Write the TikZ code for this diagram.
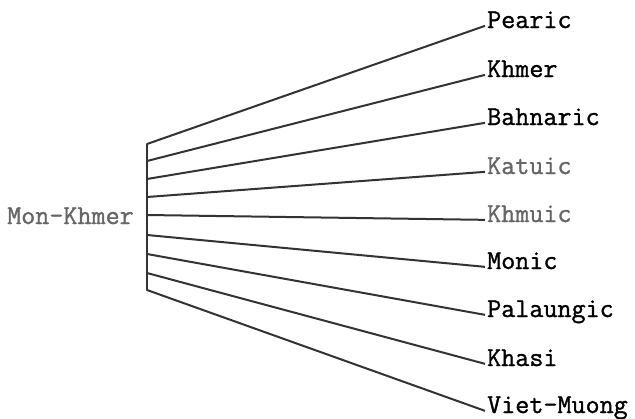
\documentclass[tikz,border=0pt]{standalone}
\usepackage{fontspec}
\setmonofont[FakeBold=1.2]{Latin Modern Mono}
\begin{document}
\begin{tikzpicture}[x=1pt,y=-1pt,
  branch/.style={draw=black!80,line width=2pt},
  lab/.style={anchor=base west,inner sep=2pt,font=\ttfamily\fontsize{27.3}{27}\selectfont},
  faint/.style={text=black!60}]
\useasboundingbox (0,0) rectangle (635,418);
% bar points
\coordinate (b1) at (147,144);
\coordinate (b2) at (147,161);
\coordinate (b3) at (147,179);
\coordinate (b4) at (147,197);
\coordinate (b5) at (147,215);
\coordinate (b6) at (147,235);
\coordinate (b7) at (147,254);
\coordinate (b8) at (147,273);
\coordinate (b9) at (147,290);
% labels
\node[lab,faint] (root) at (5,224) {Mon-Khmer};
\node[lab] (l1) at (485,28) {Pearic};
\node[lab] (l2) at (485,77) {Khmer};
\node[lab] (l3) at (485,125) {Bahnaric};
\node[lab,faint] (l4) at (485,174) {Katuic};
\node[lab,faint] (l5) at (485,222) {Khmuic};
\node[lab] (l6) at (485,269) {Monic};
\node[lab] (l7) at (485,317) {Palaungic};
\node[lab] (l8) at (485,366) {Khasi};
\node[lab] (l9) at (485,413) {Viet-Muong};
% bar
\draw[branch,line cap=round] (b1) -- (b9);
% branches
\foreach \i in {1,...,9}{\draw[branch] (b\i) -- (l\i.mid west);}
\end{tikzpicture}
\end{document}
